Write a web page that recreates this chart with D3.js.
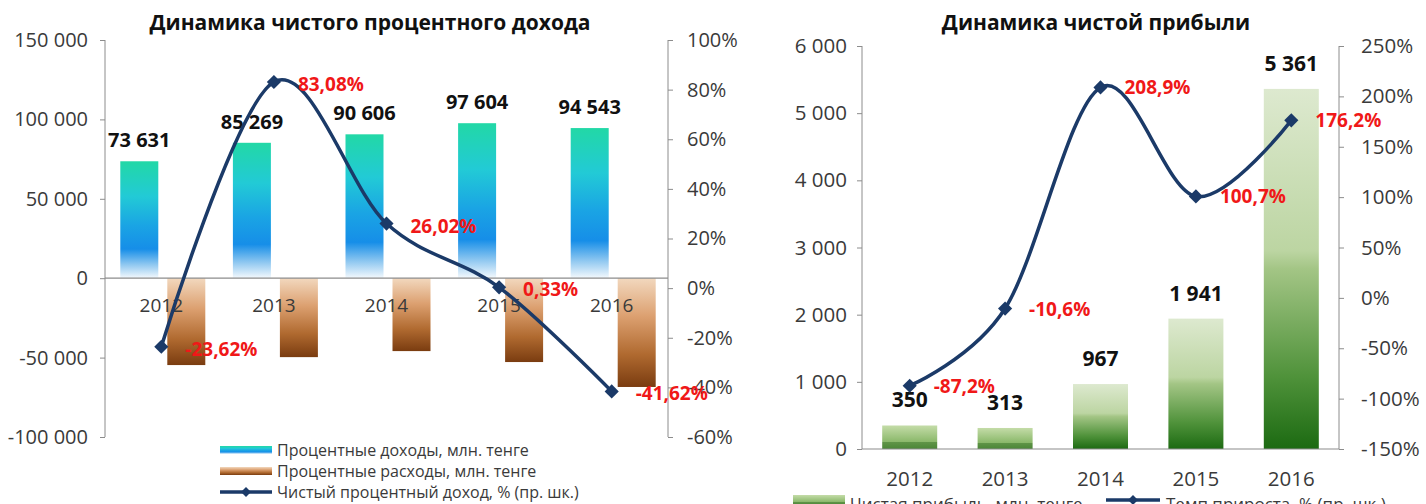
<!DOCTYPE html>
<html><head><meta charset="utf-8">
<script src="https://cdn.jsdelivr.net/npm/d3@7"></script>
<style>
html,body{margin:0;padding:0;background:#fff;overflow:hidden;}
text{font-family:"Open Sans","Noto Sans",sans-serif;}
</style></head>
<body>
<svg id="c" width="1426" height="504"></svg>
<script>
// ---------- DATA ----------
const years = ["2012","2013","2014","2015","2016"];
// Left chart
const leftTitle = "Динамика чистого процентного дохода";
const interestIncome = [73631, 85269, 90606, 97604, 94543];
const interestExpense = [-54700, -49700, -45900, -52800, -68500];
const netInterestGrowth = [-23.62, 83.08, 26.02, 0.33, -41.62];
const leftTicks = [150000, 100000, 50000, 0, -50000, -100000];
const leftPctTicks = [100, 80, 60, 40, 20, 0, -20, -40, -60];
const leftLegend = ["Процентные доходы, млн. тенге", "Процентные расходы, млн. тенге", "Чистый процентный доход, % (пр. шк.)"];
// Right chart
const rightTitle = "Динамика чистой прибыли";
const netProfit = [350, 313, 967, 1941, 5361];
const profitGrowth = [-87.2, -10.6, 208.9, 100.7, 176.2];
const rightTicks = [6000, 5000, 4000, 3000, 2000, 1000, 0];
const rightPctTicks = [250, 200, 150, 100, 50, 0, -50, -100, -150];
const rightLegend = ["Чистая прибыль, млн. тенге", "Темп прироста, % (пр. шк.)"];

// ---------- HELPERS ----------
const svg = d3.select("#c");
const fixMinus = s => s.replace(/\u2212/g, "-");
const fmtNum = v => fixMinus(d3.format(",")(v)).replace(/,/g, " ");
const fmtPct1 = v => fixMinus(d3.format(".1f")(v)).replace(".", ",") + "%";
const fmtPct2 = v => fixMinus(d3.format(".2f")(v)).replace(".", ",") + "%";
const fmtTickPct = v => fixMinus(String(v)) + "%";
const LINE = "#1b3a68", AXIS = "#8c8c8c", TXT = "#3a3a3a", RED = "#f01818";

const defs = svg.append("defs");
function grad(id, stops) {
  const g = defs.append("linearGradient").attr("id", id).attr("x1", 0).attr("y1", 0).attr("x2", 0).attr("y2", 1);
  stops.forEach(s => g.append("stop").attr("offset", s[0]).attr("stop-color", s[1]));
}
grad("gInc", [[0, "#22d8a6"], [0.3, "#22cad6"], [0.55, "#1aa4e4"], [0.75, "#168ee8"], [0.88, "#8cc6f0"], [1, "#f4f9fd"]]);
grad("gExp", [[0, "#f2d8be"], [0.35, "#dca070"], [0.7, "#b06a30"], [1, "#7a3c10"]]);
grad("gGrn", [[0, "#dde9cf"], [0.45, "#bcd5a2"], [0.5, "#a3c585"], [0.8, "#4f923a"], [1, "#1c6a12"]]);
grad("gGrnL", [[0, "#c4dca8"], [0.7, "#8ab86a"], [0.72, "#5f9447"], [1, "#4a8636"]]);

function diamond(g, x, y, s) {
  g.append("rect").attr("x", x - s / 2).attr("y", y - s / 2).attr("width", s).attr("height", s)
    .attr("fill", LINE).attr("transform", `rotate(45,${x},${y})`);
}
function styleAxis(a, y0, y1, fs) {
  a.select(".domain").attr("stroke", AXIS).attr("d", `M0,${y0}V${y1}`);
  a.selectAll(".tick line").attr("stroke", AXIS);
  a.selectAll(".tick text").attr("font-size", fs).attr("fill", TXT).attr("font-family", "Open Sans");
}

// ---------- LEFT CHART ----------
{
  const g = svg.append("g");
  const x = d3.scaleBand().domain(years).range([105, 668]);
  const y = d3.scaleLinear().domain([-100000, 150000]).range([437, 40]);
  const y2 = d3.scaleLinear().domain([-60, 100]).range([437, 40]);
  const bw = 38;
  const cx = i => x(years[i]) + x.bandwidth() / 2;

  g.append("text").attr("x", 370).attr("y", 30).attr("text-anchor", "middle")
    .attr("font-size", 21).attr("font-weight", "bold").attr("fill", "#111").text(leftTitle);

  const aL = g.append("g").attr("transform", "translate(105,0)")
    .call(d3.axisLeft(y).tickValues(leftTicks).tickSize(5).tickPadding(12).tickFormat(fmtNum));
  const aR = g.append("g").attr("transform", "translate(668,0)")
    .call(d3.axisRight(y2).tickValues(leftPctTicks).tickSize(5).tickPadding(14).tickFormat(fmtTickPct));
  styleAxis(aL, 437, 40, 20);
  styleAxis(aR, 437, 40, 20);

  g.selectAll(".inc").data(interestIncome).enter().append("rect")
    .attr("x", (d, i) => cx(i) - bw - 3).attr("width", bw)
    .attr("y", d => y(d)).attr("height", d => y(0) - y(d)).attr("fill", "url(#gInc)");
  g.selectAll(".exp").data(interestExpense).enter().append("rect")
    .attr("x", (d, i) => cx(i) + 6).attr("width", bw)
    .attr("y", y(0)).attr("height", d => y(d) - y(0)).attr("fill", "url(#gExp)");

  g.append("line").attr("x1", 105).attr("x2", 668).attr("y1", y(0)).attr("y2", y(0)).attr("stroke", AXIS).attr("stroke-width", 1.2);

  g.selectAll(".cat").data(years).enter().append("text")
    .attr("x", d => x(d) + x.bandwidth() / 2).attr("y", 312).attr("text-anchor", "middle")
    .attr("font-size", 19).attr("fill", TXT).text(d => d);

  g.selectAll(".vl").data(interestIncome).enter().append("text")
    .attr("x", (d, i) => cx(i) - bw / 2 - 3).attr("y", d => y(d) - 14)
    .attr("text-anchor", "middle").attr("font-size", 20).attr("font-weight", "bold").attr("fill", "#111")
    .text(fmtNum);

  const pts = netInterestGrowth.map((v, i) => [cx(i), y2(v)]);
  g.append("path").attr("d", d3.line().curve(d3.curveCardinal.tension(0))(pts))
    .attr("fill", "none").attr("stroke", LINE).attr("stroke-width", 3.5);
  pts.forEach(p => diamond(g, p[0], p[1], 10));
  g.selectAll(".pl").data(netInterestGrowth).enter().append("text")
    .attr("x", (d, i) => pts[i][0] + 24).attr("y", (d, i) => pts[i][1] + 9)
    .attr("font-size", 19).attr("font-weight", "bold").attr("fill", RED).text(fmtPct2);

  const lg = g.append("g");
  const ly = [450, 471, 492];
  lg.append("rect").attr("x", 220).attr("y", ly[0] - 4).attr("width", 52).attr("height", 8).attr("fill", "url(#gInc)");
  lg.append("rect").attr("x", 220).attr("y", ly[1] - 4).attr("width", 52).attr("height", 8).attr("fill", "url(#gExp)");
  lg.append("line").attr("x1", 220).attr("x2", 272).attr("y1", ly[2]).attr("y2", ly[2]).attr("stroke", LINE).attr("stroke-width", 3.5);
  diamond(lg, 246, ly[2], 7);
  leftLegend.forEach((t, i) => lg.append("text").attr("x", 277).attr("y", ly[i] + 6)
    .attr("font-size", 16).attr("fill", TXT).text(t));
}

// ---------- RIGHT CHART ----------
{
  const g = svg.append("g");
  const x = d3.scaleBand().domain(years).range([862, 1339]);
  const y = d3.scaleLinear().domain([0, 6000]).range([449, 46]);
  const y2 = d3.scaleLinear().domain([-150, 250]).range([449, 46]);
  const bw = 55;
  const cx = i => x(years[i]) + x.bandwidth() / 2;

  g.append("text").attr("x", 1096).attr("y", 30).attr("text-anchor", "middle")
    .attr("font-size", 21).attr("font-weight", "bold").attr("fill", "#111").text(rightTitle);

  const aL = g.append("g").attr("transform", "translate(862,0)")
    .call(d3.axisLeft(y).tickValues(rightTicks).tickSize(5).tickPadding(10).tickFormat(fmtNum));
  const aR = g.append("g").attr("transform", "translate(1339,0)")
    .call(d3.axisRight(y2).tickValues(rightPctTicks).tickSize(5).tickPadding(17).tickFormat(fmtTickPct));
  styleAxis(aL, 449, 46, 20.5);
  styleAxis(aR, 449, 46, 20.5);

  g.selectAll(".b").data(netProfit).enter().append("rect")
    .attr("x", (d, i) => cx(i) - bw / 2).attr("width", bw)
    .attr("y", d => y(d)).attr("height", d => y(0) - y(d))
    .attr("fill", d => d < 500 ? "url(#gGrnL)" : "url(#gGrn)");

  g.append("line").attr("x1", 862).attr("x2", 1339).attr("y1", y(0)).attr("y2", y(0)).attr("stroke", AXIS).attr("stroke-width", 1.2);

  g.selectAll(".cat").data(years).enter().append("text")
    .attr("x", d => x(d) + x.bandwidth() / 2).attr("y", 486).attr("text-anchor", "middle")
    .attr("font-size", 20.5).attr("fill", TXT).text(d => d);

  g.selectAll(".vl").data(netProfit).enter().append("text")
    .attr("x", (d, i) => cx(i)).attr("y", d => y(d) - 18)
    .attr("text-anchor", "middle").attr("font-size", 21).attr("font-weight", "bold").attr("fill", "#111")
    .text(fmtNum);

  const pts = profitGrowth.map((v, i) => [cx(i), y2(v)]);
  g.append("path").attr("d", d3.line().curve(d3.curveCardinal.tension(0))(pts))
    .attr("fill", "none").attr("stroke", LINE).attr("stroke-width", 3.5);
  pts.forEach(p => diamond(g, p[0], p[1], 10));
  g.selectAll(".pl").data(profitGrowth).enter().append("text")
    .attr("x", (d, i) => pts[i][0] + 24).attr("y", (d, i) => pts[i][1] + 7)
    .attr("font-size", 19).attr("font-weight", "bold").attr("fill", RED).text(fmtPct1);

  const lg = g.append("g");
  lg.append("rect").attr("x", 793).attr("y", 495).attr("width", 52).attr("height", 10).attr("fill", "url(#gGrnL)");
  lg.append("line").attr("x1", 1106).attr("x2", 1160).attr("y1", 500).attr("y2", 500).attr("stroke", LINE).attr("stroke-width", 3.5);
  diamond(lg, 1133, 500, 7);
  lg.append("text").attr("x", 850).attr("y", 510).attr("font-size", 17).attr("fill", TXT).text(rightLegend[0]);
  lg.append("text").attr("x", 1166).attr("y", 510).attr("font-size", 17).attr("fill", TXT).text(rightLegend[1]);
}
</script>
</body></html>
